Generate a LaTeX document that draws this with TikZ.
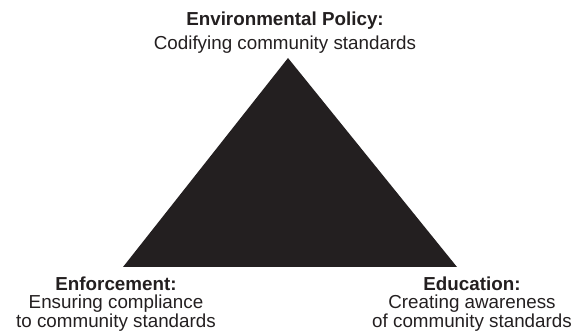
\documentclass[tikz,border=0pt]{standalone}
\usepackage{fontspec}
\setmainfont{Liberation Sans}
\definecolor{tri}{HTML}{231F20}
\definecolor{txt}{HTML}{231F20}
\begin{document}
\begin{tikzpicture}[x=1pt,y=-1pt,
  label/.style={align=center,inner sep=0pt,text=txt,font=\fontsize{18.8}{18.5}\selectfont},
  tri/.style={fill=tri,draw=none}]
\useasboundingbox (0,0) rectangle (580,336);
\coordinate (apex) at (288,58);
\coordinate (bl) at (123,267);
\coordinate (br) at (457,267);
\fill[tri] (apex) -- (bl) -- (br) -- cycle;
\node[label,anchor=base] (policy) at (285,50) {\textbf{Environmental Policy:}\\[5.5pt]Codifying community standards};
\node[label,anchor=base] (enf) at (116,327) {\textbf{Enforcement:}\\Ensuring compliance\\to community standards};
\node[label,anchor=base] (edu) at (472,327) {\textbf{Education:}\\Creating awareness\\of community standards};
\end{tikzpicture}
\end{document}
